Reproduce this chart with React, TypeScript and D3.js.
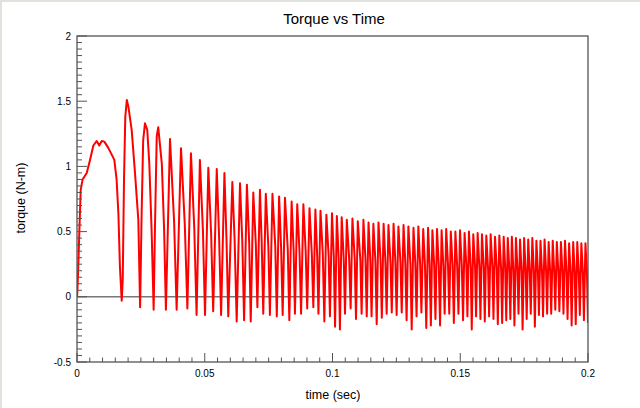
import React from "react";
import * as d3 from "d3";

// ---- data (time in ms, torque in N-m) ----
const rampTime = [0, 0.12, 0.5, 0.9, 1.45, 2.2, 3.8, 5.1, 6.4, 7.7, 8.7, 9.7, 10.7, 12.3, 13.6, 14.6, 15.5, 16.2, 16.8, 17.5, 17.9, 18.4, 18.9, 19.5, 20.1, 21.4, 22.7, 24.0, 24.7, 25.3, 25.9, 26.6, 27.5, 28.3, 29.2, 30.0, 30.5, 31.2, 31.8, 33.2, 34.1];
const rampTorque = [0, 0.03, 0.23, 0.49, 0.82, 0.9, 0.95, 1.05, 1.16, 1.195, 1.16, 1.195, 1.19, 1.14, 1.09, 1.05, 0.9, 0.64, 0.23, -0.03, 0.13, 0.9, 1.38, 1.51, 1.46, 1.28, 0.95, 0.59, -0.08, 0.64, 1.2, 1.33, 1.28, 1.02, 0.51, -0.1, 0.51, 1.23, 1.3, 1.02, 0.51];

const troughTime = [34.8, 39.0, 43.2, 46.8, 50.1, 53.3, 56.4, 59.2, 62.5, 65.4, 68.0, 70.6, 72.9, 75.5, 78.2, 80.5, 83.1, 85.3, 87.7, 90.1, 92.5, 94.5, 96.8, 99.0, 101.0, 102.9, 104.9, 107.1, 109.2, 111.4, 113.4, 115.3, 117.3, 119.3, 121.2, 123.2, 125.1, 127.1, 129.0, 131.0, 132.9, 134.8, 136.7, 138.5, 140.3, 142.1, 143.9, 145.7, 147.5, 149.3, 151.1, 152.8, 154.5, 156.2, 157.9, 159.6, 161.3, 163.0, 164.7, 166.4, 168.0, 169.6, 171.2, 172.8, 174.4, 176.0, 177.6, 179.2, 180.8, 182.4, 184.0, 185.6, 187.2, 188.8, 190.4, 192.0, 193.6, 195.2, 196.8, 198.4, 200.0];
const troughTorque = [-0.10, -0.10, -0.09, -0.14, -0.14, -0.11, -0.14, -0.15, -0.19, -0.18, -0.19, -0.08, -0.13, -0.14, -0.15, -0.14, -0.18, -0.13, -0.13, -0.09, -0.08, -0.13, -0.19, -0.15, -0.23, -0.25, -0.13, -0.09, -0.17, -0.13, -0.15, -0.15, -0.21, -0.16, -0.13, -0.12, -0.14, -0.12, -0.18, -0.25, -0.15, -0.12, -0.24, -0.22, -0.17, -0.22, -0.13, -0.13, -0.20, -0.13, -0.18, -0.15, -0.25, -0.15, -0.17, -0.19, -0.15, -0.17, -0.21, -0.20, -0.18, -0.17, -0.22, -0.13, -0.25, -0.17, -0.13, -0.23, -0.14, -0.15, -0.13, -0.13, -0.10, -0.11, -0.13, -0.17, -0.22, -0.21, -0.14, -0.18, -0.20];

const peakTime = [36.4, 40.7, 44.6, 48.1, 51.4, 54.7, 57.7, 60.8, 63.8, 66.5, 69.0, 71.6, 73.9, 76.5, 79.1, 81.4, 84.0, 86.2, 88.6, 91.0, 93.3, 95.3, 97.6, 99.8, 101.7, 103.6, 105.6, 107.8, 109.9, 112.1, 114.1, 116.0, 118.0, 120.0, 121.9, 123.9, 125.8, 127.8, 129.7, 131.7, 133.6, 135.5, 137.4, 139.1, 140.9, 142.7, 144.5, 146.3, 148.1, 149.9, 151.7, 153.4, 155.1, 156.8, 158.5, 160.2, 161.9, 163.6, 165.3, 167.0, 168.6, 170.2, 171.8, 173.4, 175.0, 176.6, 178.2, 179.8, 181.4, 183.0, 184.6, 186.2, 187.8, 189.4, 191.0, 192.6, 194.2, 195.8, 197.4, 199.0];
const peakTorque = [1.21, 1.14, 1.10, 1.05, 0.99, 0.98, 0.95, 0.88, 0.87, 0.86, 0.80, 0.82, 0.79, 0.79, 0.77, 0.76, 0.73, 0.71, 0.71, 0.68, 0.67, 0.66, 0.63, 0.64, 0.62, 0.61, 0.59, 0.60, 0.58, 0.59, 0.57, 0.56, 0.57, 0.56, 0.55, 0.56, 0.54, 0.55, 0.54, 0.53, 0.54, 0.52, 0.53, 0.51, 0.52, 0.51, 0.52, 0.50, 0.50, 0.51, 0.49, 0.50, 0.48, 0.49, 0.48, 0.47, 0.48, 0.46, 0.47, 0.46, 0.45, 0.46, 0.45, 0.44, 0.45, 0.44, 0.45, 0.43, 0.43, 0.44, 0.42, 0.43, 0.42, 0.42, 0.43, 0.41, 0.42, 0.42, 0.41, 0.41];

const shoulderTime = [38.0, 42.2, 45.9, 49.3, 52.5, 55.6, 58.5, 61.7, 64.7, 67.4, 70.0, 72.3, 74.9, 77.6, 79.9, 82.5, 84.8, 87.1, 89.5, 91.9, 94.0, 96.2, 98.5, 100.5, 102.4, 104.4, 106.5, 108.7, 110.9, 112.9, 114.8, 116.8, 118.8, 120.7, 122.7, 124.6, 126.6, 128.5, 130.5, 132.4, 134.3, 136.2, 138.0, 139.8, 141.6, 143.4, 145.2, 147.0, 148.8, 150.6, 152.4, 154.1, 155.8, 157.5, 159.2, 160.9, 162.6, 164.3, 166.0, 167.6, 169.2, 170.8, 172.4, 174.0, 175.6, 177.2, 178.8, 180.4, 182.0, 183.6, 185.2, 186.8, 188.4, 190.0, 191.6, 193.2, 194.8, 196.4, 198.0, 199.6];
const shoulderTorque = [0.58, 0.55, 0.53, 0.50, 0.48, 0.47, 0.45, 0.43, 0.42, 0.41, 0.40, 0.41, 0.38, 0.39, 0.37, 0.36, 0.35, 0.34, 0.35, 0.33, 0.32, 0.33, 0.31, 0.31, 0.30, 0.29, 0.30, 0.29, 0.28, 0.29, 0.28, 0.27, 0.28, 0.27, 0.26, 0.27, 0.26, 0.26, 0.25, 0.26, 0.25, 0.24, 0.25, 0.24, 0.24, 0.23, 0.25, 0.24, 0.23, 0.24, 0.23, 0.22, 0.23, 0.22, 0.22, 0.21, 0.22, 0.21, 0.21, 0.22, 0.21, 0.20, 0.21, 0.20, 0.20, 0.19, 0.20, 0.19, 0.19, 0.20, 0.19, 0.18, 0.19, 0.18, 0.18, 0.18, 0.19, 0.18, 0.18, 0.18];

const xTickLabels = ["0", "0.05", "0.1", "0.15", "0.2"];
const yTickLabels = ["-0.5", "0", "0.5", "1", "1.5", "2"];

const title = "Torque vs Time";
const xTitle = "time (sec)";
const yTitle = "torque (N-m)";

const W = 640, H = 408;
const M = { left: 77, right: 588, top: 36, bottom: 362 };

export default function App() {
  const x = d3.scaleLinear().domain([0, 0.2]).range([M.left, M.right]);
  const y = d3.scaleLinear().domain([-0.5, 2]).range([M.bottom, M.top]);

  const pts: [number, number][] = [];
  rampTime.forEach((t, i) => pts.push([t, rampTorque[i]]));
  troughTime.forEach((t, i) => pts.push([t, troughTorque[i]]));
  peakTime.forEach((t, i) => pts.push([t, peakTorque[i]]));
  shoulderTime.forEach((t, i) => pts.push([t, shoulderTorque[i]]));
  pts.sort((a, b) => a[0] - b[0]);

  const line = d3
    .line<[number, number]>()
    .x((d) => x(d[0] / 1000))
    .y((d) => y(d[1]));

  const xMajor = d3.range(0, 5).map((i) => i * 0.05);
  const xMinor = d3.range(0, 41).map((i) => i * 0.005);
  const yMajor = d3.range(0, 6).map((i) => -0.5 + i * 0.5);
  const yMinor = d3.range(0, 51).map((i) => -0.5 + i * 0.05);

  const font = "'Liberation Sans', Arial, sans-serif";
  const axisCol = "#555";

  return (
    <svg width={W} height={H} style={{ position: "absolute", left: 0, top: 0, background: "#fff" }}>
      <rect x={0} y={0} width={W} height={H} fill="#fff" />
      <line x1={0} y1={1} x2={W} y2={1} stroke="#e2e2dc" strokeWidth={2} />
      <line x1={1} y1={0} x2={1} y2={H} stroke="#e2e2dc" strokeWidth={2} />
      <defs>
        <clipPath id="plotClip">
          <rect x={M.left} y={M.top} width={M.right - M.left} height={M.bottom - M.top} />
        </clipPath>
      </defs>

      <text x={334} y={24} textAnchor="middle" fontFamily={font} fontSize={15} fill="#000">
        {title}
      </text>

      {/* zero line */}
      <line x1={M.left} x2={M.right} y1={y(0)} y2={y(0)} stroke="#777" strokeWidth={1.6} />

      {/* data */}
      <path
        d={line(pts) || ""}
        fill="none"
        stroke="#ff0000"
        strokeWidth={2}
        strokeLinejoin="round"
        clipPath="url(#plotClip)"
      />

      {/* frame */}
      <rect
        x={M.left}
        y={M.top}
        width={M.right - M.left}
        height={M.bottom - M.top}
        fill="none"
        stroke={axisCol}
        strokeWidth={1.3}
      />

      {/* x ticks */}
      {xMinor.map((v, i) => (
        <line key={"xm" + i} x1={x(v)} x2={x(v)} y1={M.bottom} y2={M.bottom - (i % 10 === 0 ? 9 : 4.5)} stroke={axisCol} strokeWidth={1} />
      ))}
      {xMajor.map((v, i) => (
        <text key={"xl" + i} x={x(v)} y={377} textAnchor="middle" fontFamily={font} fontSize={10} fill="#000">
          {xTickLabels[i]}
        </text>
      ))}

      {/* y ticks */}
      {yMinor.map((v, i) => (
        <line key={"ym" + i} x1={M.left} x2={M.left + (i % 10 === 0 ? 10 : 5)} y1={y(v)} y2={y(v)} stroke={axisCol} strokeWidth={1} />
      ))}
      {yMajor.map((v, i) => (
        <text key={"yl" + i} x={71} y={y(v) + 3.5} textAnchor="end" fontFamily={font} fontSize={10} fill="#000">
          {yTickLabels[i]}
        </text>
      ))}

      <text x={333} y={399} textAnchor="middle" fontFamily={font} fontSize={12.5} fill="#000">
        {xTitle}
      </text>
      <text
        transform={`translate(25,${198}) rotate(-90)`}
        textAnchor="middle"
        fontFamily={font}
        fontSize={12.5}
        fill="#000"
      >
        {yTitle}
      </text>
    </svg>
  );
}
